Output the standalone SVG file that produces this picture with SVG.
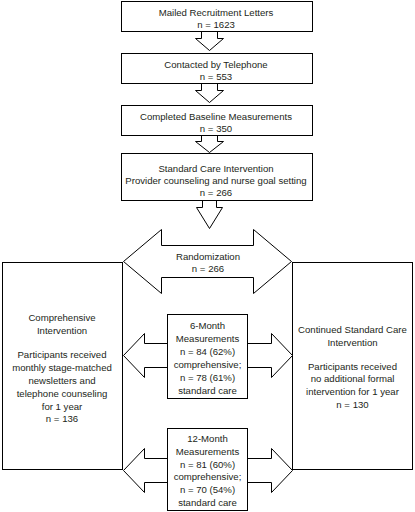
<svg xmlns="http://www.w3.org/2000/svg" width="415" height="512" viewBox="0 0 415 512">
<style>
.box{fill:#fff;stroke:#000;stroke-width:1}
.arr{fill:#fff;stroke:#000;stroke-width:1;stroke-linejoin:miter}
text{font-family:"Liberation Sans",Arial,sans-serif;font-size:9.6px;fill:#231f20;text-anchor:middle}
</style>
<rect width="415" height="512" fill="#fff"/>
<g id="connectors">
<polygon class="arr" points="201.5,31.5 201.5,38.5 195.5,38.5 209.5,50.5 223.5,38.5 217.5,38.5 217.5,31.5"/>
<polygon class="arr" points="201.5,83.5 201.5,90.5 195.5,90.5 209.5,102.5 223.5,90.5 217.5,90.5 217.5,83.5"/>
<polygon class="arr" points="201.5,135.5 201.5,141.5 195.5,141.5 209.5,152.5 223.5,141.5 217.5,141.5 217.5,135.5"/>
<polygon class="arr" points="202.5,200.5 202.5,207.5 196.5,207.5 209.5,228.5 222.5,207.5 216.5,207.5 216.5,200.5"/>
</g>
<g id="box1">
<rect class="box" x="121.5" y="1.5" width="191" height="30"/>
<text x="216" y="15.5">Mailed Recruitment Letters</text>
<text x="216" y="27.5">n = 1623</text>
</g>
<g id="box2">
<rect class="box" x="121.5" y="53.5" width="191" height="30"/>
<text x="216" y="67.5">Contacted by Telephone</text>
<text x="216" y="79.5">n = 553</text>
</g>
<g id="box3">
<rect class="box" x="121.5" y="105.5" width="191" height="30"/>
<text x="216" y="119.5">Completed Baseline Measurements</text>
<text x="216" y="131.5">n = 350</text>
</g>
<g id="box4">
<rect class="box" x="121.5" y="153.5" width="191" height="47"/>
<text x="216" y="171.5">Standard Care Intervention</text>
<text x="216" y="183.5">Provider counseling and nurse goal setting</text>
<text x="216" y="196">n = 266</text>
</g>
<g id="randomization">
<polygon class="arr" points="123.5,261.5 161.5,229.5 161.5,245.5 253.5,245.5 253.5,229.5 291.5,261.5 253.5,293.5 253.5,277.5 161.5,277.5 161.5,293.5"/>
<text x="208" y="260">Randomization</text>
<text x="208" y="272">n = 266</text>
</g>
<g id="comprehensive">
<rect class="box" x="2.5" y="262.5" width="120" height="207"/>
<text x="62" y="321">Comprehensive</text>
<text x="62" y="333.5">Intervention</text>
<text x="62" y="358">Participants received</text>
<text x="62" y="371">monthly stage-matched</text>
<text x="62" y="383.5">newsletters and</text>
<text x="62" y="396.5">telephone counseling</text>
<text x="62" y="409.5">for 1 year</text>
<text x="62" y="422">n = 136</text>
</g>
<g id="standard">
<rect class="box" x="292.5" y="262.5" width="120" height="207"/>
<text x="352.5" y="332.5">Continued Standard Care</text>
<text x="352.5" y="345.5">Intervention</text>
<text x="352.5" y="369.5">Participants received</text>
<text x="352.5" y="382">no additional formal</text>
<text x="352.5" y="395">intervention for 1 year</text>
<text x="352.5" y="408">n = 130</text>
</g>
<g id="month6">
<polygon class="arr" points="123.5,355.5 144.5,333.5 144.5,343.5 271.5,343.5 271.5,333.5 292.5,355.5 271.5,377.5 271.5,367.5 144.5,367.5 144.5,377.5"/>
<rect class="box" x="167.5" y="314.5" width="80" height="84"/>
<text x="207.5" y="329">6-Month</text>
<text x="207.5" y="342">Measurements</text>
<text x="207.5" y="355">n = 84 (62%)</text>
<text x="207.5" y="368">comprehensive;</text>
<text x="207.5" y="381">n = 78 (61%)</text>
<text x="207.5" y="394">standard care</text>
</g>
<g id="month12">
<polygon class="arr" points="123.5,470.5 144.5,448.5 144.5,458.5 271.5,458.5 271.5,448.5 292.5,470.5 271.5,492.5 271.5,482.5 144.5,482.5 144.5,492.5"/>
<rect class="box" x="167.5" y="428.5" width="80" height="82"/>
<text x="207.5" y="442">12-Month</text>
<text x="207.5" y="455">Measurements</text>
<text x="207.5" y="467.5">n = 81 (60%)</text>
<text x="207.5" y="480">comprehensive;</text>
<text x="207.5" y="492.5">n = 70 (54%)</text>
<text x="207.5" y="505.5">standard care</text>
</g>
</svg>
